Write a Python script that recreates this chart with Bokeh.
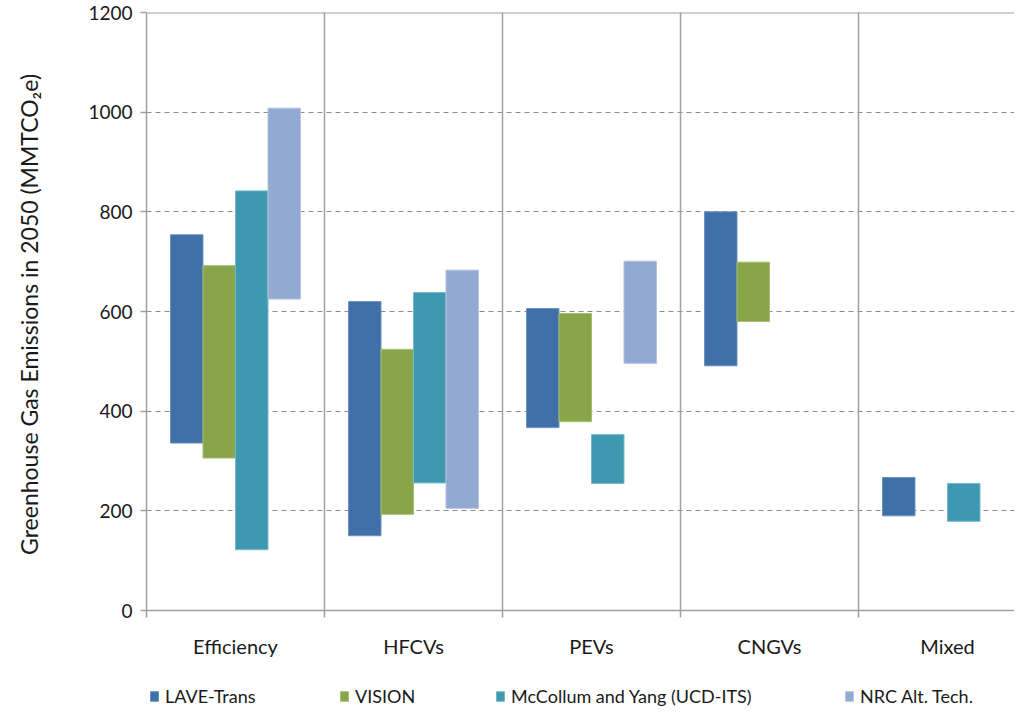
from bokeh.plotting import figure
from bokeh.layouts import column
from bokeh.models import (Range1d, FixedTicker, Span, Legend, LegendItem,
                          ColumnDataSource)
from bokeh.embed import file_html
from bokeh.resources import INLINE

categories = ["Efficiency", "HFCVs", "PEVs", "CNGVs", "Mixed"]
series = ["LAVE-Trans", "VISION", "McCollum and Yang (UCD-ITS)", "NRC Alt. Tech."]
colors = ["#3F71A8", "#88A54A", "#3E99B0", "#92A9D1"]
edge_colors = ["#6F93C0", "#A6BE72", "#74BACB", "#B4C4E2"]

lave_low = [336, 150, 367, 491, 190]
lave_high = [754, 620, 606, 800, 267]
vision_low = [306, 193, 379, 580, None]
vision_high = [692, 524, 596, 699, None]
mccollum_low = [122, 256, 255, None, 179]
mccollum_high = [842, 638, 353, None, 255]
nrc_low = [625, 205, 496, None, None]
nrc_high = [1008, 683, 701, None, None]

y_ticks = [0, 200, 400, 600, 800, 1000, 1200]

lows = [lave_low, vision_low, mccollum_low, nrc_low]
highs = [lave_high, vision_high, mccollum_high, nrc_high]

FONT = "Lato"

p = figure(width=1014, height=660, output_backend="svg", toolbar_location=None,
           x_range=Range1d(0, 868 / 178), y_range=Range1d(0, 1200),
           min_border_left=146, min_border_top=12, min_border_bottom=50,
           min_border_right=0)
p.outline_line_color = None
p.background_fill_color = "white"
p.border_fill_color = "white"

# grid
p.xgrid.grid_line_color = None
p.ygrid.ticker = FixedTicker(ticks=[200, 400, 600, 800, 1000])
p.ygrid.grid_line_color = "#8C8C8C"
p.ygrid.grid_line_dash = "5 4"
p.ygrid.grid_line_width = 1.2

# category dividers
for b in [1, 2, 3, 4]:
    p.add_layout(Span(location=b, dimension="height", line_color="#A0A0A0",
                      line_width=1.5))
p.add_layout(Span(location=1200, dimension="width", line_color="#A0A0A0",
                  line_width=2))

# bars
bar_w = 32.5 / 178
offsets = [-1.5, -0.5, 0.5, 1.5]
for i, name in enumerate(series):
    xs, tops, bottoms = [], [], []
    for c in range(len(categories)):
        lo, hi = lows[i][c], highs[i][c]
        if lo is None or hi is None:
            continue
        xs.append(c + 0.5 + offsets[i] * bar_w)
        tops.append(hi)
        bottoms.append(lo)
    src = ColumnDataSource(dict(x=xs, top=tops, bottom=bottoms))
    p.vbar(x="x", top="top", bottom="bottom", width=bar_w, source=src,
           fill_color=colors[i], line_color=edge_colors[i], line_width=1)

# y axis
yax = p.yaxis[0]
yax.ticker = FixedTicker(ticks=y_ticks)
yax.axis_line_color = "#A0A0A0"
yax.axis_line_width = 1.5
yax.major_tick_line_color = "#A0A0A0"
yax.major_tick_line_width = 1.5
yax.major_tick_out = 6
yax.major_tick_in = 0
yax.minor_tick_line_color = None
yax.major_label_text_font = FONT
yax.major_label_text_font_size = "19px"
yax.major_label_text_color = "#1A1A1A"
yax.major_label_standoff = 8
yax.axis_label = "Greenhouse Gas Emissions  in 2050 (MMTCO\u2082e)"
yax.axis_label_text_font = FONT
yax.axis_label_text_font_size = "23px"
yax.axis_label_text_font_style = "normal"
yax.axis_label_text_color = "#1A1A1A"
yax.axis_label_standoff = 42

# x axis
xax = p.xaxis[0]
xax.ticker = FixedTicker(ticks=[0.5, 1.5, 2.5, 3.5, 4.5],
                         minor_ticks=[0, 1, 2, 3, 4])
xax.major_label_overrides = {0.5 + i: c for i, c in enumerate(categories)}
xax.axis_line_color = "#A0A0A0"
xax.axis_line_width = 1.5
xax.major_tick_line_color = None
xax.major_tick_out = 0
xax.major_tick_in = 0
xax.minor_tick_line_color = "#A0A0A0"
xax.minor_tick_line_width = 1.5
xax.minor_tick_out = 7
xax.minor_tick_in = 0
xax.major_label_text_font = FONT
xax.major_label_text_font_size = "20px"
xax.major_label_text_color = "#1A1A1A"
xax.major_label_standoff = 16

# legend strip (frame aligned with the main plot's frame)
pl = figure(width=1014, height=48, output_backend="svg", toolbar_location=None,
            x_range=Range1d(0, 1), y_range=Range1d(0, 1),
            x_axis_type=None, y_axis_type=None,
            min_border_left=146, min_border_right=0, min_border_top=0,
            min_border_bottom=0)
pl.outline_line_color = None
pl.xgrid.grid_line_color = None
pl.ygrid.grid_line_color = None

leg_x = [3, 193, 349, 698]
for i, name in enumerate(series):
    r = pl.vbar(x=[-10], top=[0], bottom=[-1], width=0.1, fill_color=colors[i],
                line_color=edge_colors[i])
    lg = Legend(items=[LegendItem(label=name, renderers=[r])],
                location=(leg_x[i], 1), orientation="horizontal",
                border_line_color=None, background_fill_alpha=0,
                label_text_font=FONT, label_text_font_size="18px",
                label_text_color="#1A1A1A", glyph_width=10, glyph_height=12,
                label_standoff=6, padding=0, margin=0)
    pl.add_layout(lg, "center")

layout = column(p, pl, spacing=0)
open("out.html", "w").write(file_html(layout, INLINE))
